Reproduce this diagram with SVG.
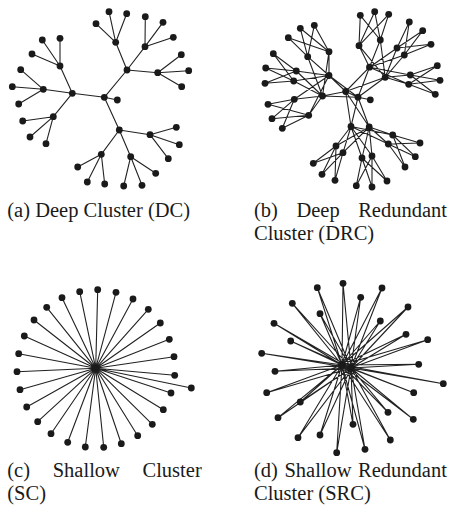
<svg xmlns="http://www.w3.org/2000/svg" width="453" height="510" viewBox="0 0 453 510">
<style>
  .edge { fill: none; stroke: #222; stroke-width: 1.1; stroke-linejoin: round; stroke-linecap: round; }
  .node circle { fill: #1a1a1a; }
  .cap text { font-family: "Liberation Serif", "DejaVu Serif", serif; font-size: 20.5px; fill: #1a1a1a; }
</style>
<rect width="453" height="510" fill="#fff"/>

<!-- connectors -->
<g id="connectors">
  <!-- (a) deep cluster: three-level tree -->
  <path class="edge" d="
    M104.3 97.3L117.3 100 M104.3 97.3L72.3 93.3 M104.3 97.3L127 70 M104.3 97.3L119.3 130
    M72.3 93.3L60 66 M72.3 93.3L43.3 89.3 M72.3 93.3L53.3 116.7
    M60 66L42.3 40 M60 66L60 38.3 M60 66L32 54
    M43.3 89.3L20.7 69.7 M43.3 89.3L12.3 86.7 M43.3 89.3L18.7 104
    M53.3 116.7L22.7 121 M53.3 116.7L30 137 M53.3 116.7L46 143.7
    M127 70L115.7 42.3 M127 70L145 46.7 M127 70L157.7 72.7
    M115.7 42.3L96 23.7 M115.7 42.3L109 11.7 M115.7 42.3L126.7 13.7
    M145 46.7L145.3 16.7 M145 46.7L163 22.3 M145 46.7L173.3 37.3
    M157.7 72.7L181.3 54.7 M157.7 72.7L188.7 70.7 M157.7 72.7L181.7 86.7
    M119.3 130L101.3 154.3 M119.3 130L130.7 156.7 M119.3 130L150 134.7
    M101.3 154.3L77.7 167 M101.3 154.3L87.3 182 M101.3 154.3L104.7 184
    M130.7 156.7L123.7 186 M130.7 156.7L142 185.3 M130.7 156.7L155.7 173.3
    M150 134.7L176.3 127.3 M150 134.7L179.3 144.7 M150 134.7L168.3 158.7"/>

  <!-- (b) deep redundant cluster: every node linked to both members of the parent pair -->
  <path class="edge" d="
    M345.7 91.5L358 97.2 M358 97.2L370.3 99.8
    M345.7 91.5L329 75.5L358 97.2 M345.7 91.5L322.5 96L358 97.2
    M345.7 91.5L369.5 67.2L358 97.2 M345.7 91.5L385.2 77.3L358 97.2
    M345.7 91.5L351 126.5L358 97.2 M345.7 91.5L369.2 127L358 97.2

    M329 75.5L307.7 56.7L322.5 96L329 51.7L329 75.5
    M307.7 56.7L288.3 37.7L329 51.7 M307.7 56.7L300.3 28.3L329 51.7 M307.7 56.7L314.3 25.3L329 51.7
    M329 75.5L296.3 71L322.5 96L293.7 81L329 75.5
    M296.3 71L273.3 53.7L293.7 81 M296.3 71L265.7 68L293.7 81 M296.3 71L265 83.3L293.7 81
    M329 75.5L294.3 99.3L322.5 96L308.7 115.3L329 75.5
    M294.3 99.3L268 104.3L308.7 115.3 M294.3 99.3L272 118.7L308.7 115.3 M294.3 99.3L282.3 128.3L308.7 115.3

    M369.5 67.2L359 45.7L385.2 77.3L380.3 40L369.5 67.2
    M359 45.7L360.3 15.3L380.3 40 M359 45.7L374.7 11.7L380.3 40 M359 45.7L388.7 14.3L380.3 40
    M369.5 67.2L397 48L385.2 77.3L404.3 55L369.5 67.2
    M397 48L409.3 22L404.3 55 M397 48L422.7 30.7L404.3 55 M397 48L431 44.3L404.3 55
    M369.5 67.2L410.3 75L385.2 77.3L408.7 84.3L369.5 67.2
    M410.3 75L437.3 65.7L408.7 84.3 M410.3 75L440 80.3L408.7 84.3 M410.3 75L435.3 94.3L408.7 84.3

    M351 126.5L336 146L369.2 127L343 152.7L351 126.5
    M336 146L313.3 163.3L343 152.7 M336 146L322 174.3L343 152.7 M336 146L335 180.3L343 152.7
    M351 126.5L362 158L369.2 127L372 156L351 126.5
    M362 158L356.3 185.7L372 156 M362 158L372 187L372 156 M362 158L387 181L372 156
    M351 126.5L392.7 135L369.2 127L388.3 144L351 126.5
    M392.7 135L420 143L388.3 144 M392.7 135L415.3 156.7L388.3 144 M392.7 135L405 167L388.3 144"/>

  <!-- (c) shallow cluster: star -->
  <path class="edge" d="
    M95.7 368.3L97.7 289.7 M95.7 368.3L116 292.3 M95.7 368.3L133 299 M95.7 368.3L148.3 309.3
    M95.7 368.3L160.3 323 M95.7 368.3L169.3 339.3 M95.7 368.3L174 356.7 M95.7 368.3L174.7 375.3
    M95.7 368.3L191.3 388 M95.7 368.3L171 393 M95.7 368.3L163.3 409.7 M95.7 368.3L152.3 424.3
    M95.7 368.3L137.7 435.7 M95.7 368.3L121.3 443.7 M95.7 368.3L103.7 447.3 M95.7 368.3L85.3 447
    M95.7 368.3L67.7 442.3 M95.7 368.3L51 433.7 M95.7 368.3L37.7 421.7 M95.7 368.3L26.7 407
    M95.7 368.3L20 389.7 M95.7 368.3L17 371.7 M95.7 368.3L18.7 353.7 M95.7 368.3L24.3 336
    M95.7 368.3L34 320 M95.7 368.3L46.7 307.3 M95.7 368.3L62 297.7 M95.7 368.3L79.7 291.7"/>

  <!-- (d) shallow redundant cluster: each leaf tied to both hubs -->
  <path class="edge" d="
    M342 365L343 283.3L351 368 M342 365L360.7 297.3L351 368 M342 365L382 288L351 368
    M342 365L408 307L351 368 M342 365L380.3 321L351 368 M342 365L406 334.3L351 368
    M342 365L427.7 339.7L351 368 M342 365L418.7 364.3L351 368 M342 365L443.3 383.7L351 368
    M342 365L413.7 392.7L351 368 M342 365L388 412.3L351 368 M342 365L413.3 419.3L351 368
    M342 365L390.3 440L351 368 M342 365L365 449.3L351 368 M342 365L353 424.3L351 368
    M342 365L336.7 452.7L351 368 M342 365L320 435L351 368 M342 365L298 437.7L351 368
    M342 365L278 417.7L351 368 M342 365L300.3 402L351 368 M342 365L266.7 392.7L351 368
    M342 365L275 371.3L351 368 M342 365L261.7 353.3L351 368 M342 365L290.7 341L351 368
    M342 365L274 323.3L351 368 M342 365L292.3 303.3L351 368 M342 365L320 313.7L351 368
    M342 365L317.3 287.7L351 368 M342 365L351 368"/>
</g>

<!-- (a) nodes -->
<g id="dc">
  <g id="dc-root" class="node"><circle cx="104.3" cy="97.3" r="3.4"/></g>
  <g id="dc-leaf" class="node"><circle cx="117.3" cy="100" r="3.4"/></g>
  <g id="dc-h1" class="node"><circle cx="72.3" cy="93.3" r="3.4"/></g>
  <g id="dc-h2" class="node"><circle cx="127" cy="70" r="3.4"/></g>
  <g id="dc-h3" class="node"><circle cx="119.3" cy="130" r="3.4"/></g>
  <g id="dc-h1a" class="node"><circle cx="60" cy="66" r="3.4"/></g>
  <g id="dc-h1a1" class="node"><circle cx="42.3" cy="40" r="3.4"/></g>
  <g id="dc-h1a2" class="node"><circle cx="60" cy="38.3" r="3.4"/></g>
  <g id="dc-h1a3" class="node"><circle cx="32" cy="54" r="3.4"/></g>
  <g id="dc-h1b" class="node"><circle cx="43.3" cy="89.3" r="3.4"/></g>
  <g id="dc-h1b1" class="node"><circle cx="20.7" cy="69.7" r="3.4"/></g>
  <g id="dc-h1b2" class="node"><circle cx="12.3" cy="86.7" r="3.4"/></g>
  <g id="dc-h1b3" class="node"><circle cx="18.7" cy="104" r="3.4"/></g>
  <g id="dc-h1c" class="node"><circle cx="53.3" cy="116.7" r="3.4"/></g>
  <g id="dc-h1c1" class="node"><circle cx="22.7" cy="121" r="3.4"/></g>
  <g id="dc-h1c2" class="node"><circle cx="30" cy="137" r="3.4"/></g>
  <g id="dc-h1c3" class="node"><circle cx="46" cy="143.7" r="3.4"/></g>
  <g id="dc-h2a" class="node"><circle cx="115.7" cy="42.3" r="3.4"/></g>
  <g id="dc-h2a1" class="node"><circle cx="96" cy="23.7" r="3.4"/></g>
  <g id="dc-h2a2" class="node"><circle cx="109" cy="11.7" r="3.4"/></g>
  <g id="dc-h2a3" class="node"><circle cx="126.7" cy="13.7" r="3.4"/></g>
  <g id="dc-h2b" class="node"><circle cx="145" cy="46.7" r="3.4"/></g>
  <g id="dc-h2b1" class="node"><circle cx="145.3" cy="16.7" r="3.4"/></g>
  <g id="dc-h2b2" class="node"><circle cx="163" cy="22.3" r="3.4"/></g>
  <g id="dc-h2b3" class="node"><circle cx="173.3" cy="37.3" r="3.4"/></g>
  <g id="dc-h2c" class="node"><circle cx="157.7" cy="72.7" r="3.4"/></g>
  <g id="dc-h2c1" class="node"><circle cx="181.3" cy="54.7" r="3.4"/></g>
  <g id="dc-h2c2" class="node"><circle cx="188.7" cy="70.7" r="3.4"/></g>
  <g id="dc-h2c3" class="node"><circle cx="181.7" cy="86.7" r="3.4"/></g>
  <g id="dc-h3a" class="node"><circle cx="101.3" cy="154.3" r="3.4"/></g>
  <g id="dc-h3a1" class="node"><circle cx="77.7" cy="167" r="3.4"/></g>
  <g id="dc-h3a2" class="node"><circle cx="87.3" cy="182" r="3.4"/></g>
  <g id="dc-h3a3" class="node"><circle cx="104.7" cy="184" r="3.4"/></g>
  <g id="dc-h3b" class="node"><circle cx="130.7" cy="156.7" r="3.4"/></g>
  <g id="dc-h3b1" class="node"><circle cx="123.7" cy="186" r="3.4"/></g>
  <g id="dc-h3b2" class="node"><circle cx="142" cy="185.3" r="3.4"/></g>
  <g id="dc-h3b3" class="node"><circle cx="155.7" cy="173.3" r="3.4"/></g>
  <g id="dc-h3c" class="node"><circle cx="150" cy="134.7" r="3.4"/></g>
  <g id="dc-h3c1" class="node"><circle cx="176.3" cy="127.3" r="3.4"/></g>
  <g id="dc-h3c2" class="node"><circle cx="179.3" cy="144.7" r="3.4"/></g>
  <g id="dc-h3c3" class="node"><circle cx="168.3" cy="158.7" r="3.4"/></g>
</g>

<!-- (b) nodes -->
<g id="drc">
  <g id="drc-r1" class="node"><circle cx="345.7" cy="91.5" r="3.4"/></g>
  <g id="drc-r2" class="node"><circle cx="358" cy="97.2" r="3.4"/></g>
  <g id="drc-leaf" class="node"><circle cx="370.3" cy="99.8" r="3.4"/></g>
  <g id="drc-hl1" class="node"><circle cx="329" cy="75.5" r="3.4"/></g>
  <g id="drc-hl2" class="node"><circle cx="322.5" cy="96" r="3.4"/></g>
  <g id="drc-hu1" class="node"><circle cx="369.5" cy="67.2" r="3.4"/></g>
  <g id="drc-hu2" class="node"><circle cx="385.2" cy="77.3" r="3.4"/></g>
  <g id="drc-hd1" class="node"><circle cx="351" cy="126.5" r="3.4"/></g>
  <g id="drc-hd2" class="node"><circle cx="369.2" cy="127" r="3.4"/></g>
  <g id="drc-sa1" class="node"><circle cx="307.7" cy="56.7" r="3.4"/></g>
  <g id="drc-sa2" class="node"><circle cx="329" cy="51.7" r="3.4"/></g>
  <g id="drc-la1" class="node"><circle cx="288.3" cy="37.7" r="3.4"/></g>
  <g id="drc-la2" class="node"><circle cx="300.3" cy="28.3" r="3.4"/></g>
  <g id="drc-la3" class="node"><circle cx="314.3" cy="25.3" r="3.4"/></g>
  <g id="drc-sb1" class="node"><circle cx="296.3" cy="71" r="3.4"/></g>
  <g id="drc-sb2" class="node"><circle cx="293.7" cy="81" r="3.4"/></g>
  <g id="drc-lb1" class="node"><circle cx="273.3" cy="53.7" r="3.4"/></g>
  <g id="drc-lb2" class="node"><circle cx="265.7" cy="68" r="3.4"/></g>
  <g id="drc-lb3" class="node"><circle cx="265" cy="83.3" r="3.4"/></g>
  <g id="drc-sc1" class="node"><circle cx="294.3" cy="99.3" r="3.4"/></g>
  <g id="drc-sc2" class="node"><circle cx="308.7" cy="115.3" r="3.4"/></g>
  <g id="drc-lc1" class="node"><circle cx="268" cy="104.3" r="3.4"/></g>
  <g id="drc-lc2" class="node"><circle cx="272" cy="118.7" r="3.4"/></g>
  <g id="drc-lc3" class="node"><circle cx="282.3" cy="128.3" r="3.4"/></g>
  <g id="drc-sd1" class="node"><circle cx="359" cy="45.7" r="3.4"/></g>
  <g id="drc-sd2" class="node"><circle cx="380.3" cy="40" r="3.4"/></g>
  <g id="drc-ld1" class="node"><circle cx="360.3" cy="15.3" r="3.4"/></g>
  <g id="drc-ld2" class="node"><circle cx="374.7" cy="11.7" r="3.4"/></g>
  <g id="drc-ld3" class="node"><circle cx="388.7" cy="14.3" r="3.4"/></g>
  <g id="drc-se1" class="node"><circle cx="397" cy="48" r="3.4"/></g>
  <g id="drc-se2" class="node"><circle cx="404.3" cy="55" r="3.4"/></g>
  <g id="drc-le1" class="node"><circle cx="409.3" cy="22" r="3.4"/></g>
  <g id="drc-le2" class="node"><circle cx="422.7" cy="30.7" r="3.4"/></g>
  <g id="drc-le3" class="node"><circle cx="431" cy="44.3" r="3.4"/></g>
  <g id="drc-sf1" class="node"><circle cx="410.3" cy="75" r="3.4"/></g>
  <g id="drc-sf2" class="node"><circle cx="408.7" cy="84.3" r="3.4"/></g>
  <g id="drc-lf1" class="node"><circle cx="437.3" cy="65.7" r="3.4"/></g>
  <g id="drc-lf2" class="node"><circle cx="440" cy="80.3" r="3.4"/></g>
  <g id="drc-lf3" class="node"><circle cx="435.3" cy="94.3" r="3.4"/></g>
  <g id="drc-sg1" class="node"><circle cx="336" cy="146" r="3.4"/></g>
  <g id="drc-sg2" class="node"><circle cx="343" cy="152.7" r="3.4"/></g>
  <g id="drc-lg1" class="node"><circle cx="313.3" cy="163.3" r="3.4"/></g>
  <g id="drc-lg2" class="node"><circle cx="322" cy="174.3" r="3.4"/></g>
  <g id="drc-lg3" class="node"><circle cx="335" cy="180.3" r="3.4"/></g>
  <g id="drc-sh1" class="node"><circle cx="362" cy="158" r="3.4"/></g>
  <g id="drc-sh2" class="node"><circle cx="372" cy="156" r="3.4"/></g>
  <g id="drc-lh1" class="node"><circle cx="356.3" cy="185.7" r="3.4"/></g>
  <g id="drc-lh2" class="node"><circle cx="372" cy="187" r="3.4"/></g>
  <g id="drc-lh3" class="node"><circle cx="387" cy="181" r="3.4"/></g>
  <g id="drc-si1" class="node"><circle cx="392.7" cy="135" r="3.4"/></g>
  <g id="drc-si2" class="node"><circle cx="388.3" cy="144" r="3.4"/></g>
  <g id="drc-li1" class="node"><circle cx="420" cy="143" r="3.4"/></g>
  <g id="drc-li2" class="node"><circle cx="415.3" cy="156.7" r="3.4"/></g>
  <g id="drc-li3" class="node"><circle cx="405" cy="167" r="3.4"/></g>
</g>

<!-- (c) nodes -->
<g id="sc">
  <g id="sc-hub" class="node"><circle cx="95.7" cy="368.3" r="3.8"/></g>
  <g id="sc-l01" class="node"><circle cx="97.7" cy="289.7" r="3.4"/></g>
  <g id="sc-l02" class="node"><circle cx="116" cy="292.3" r="3.4"/></g>
  <g id="sc-l03" class="node"><circle cx="133" cy="299" r="3.4"/></g>
  <g id="sc-l04" class="node"><circle cx="148.3" cy="309.3" r="3.4"/></g>
  <g id="sc-l05" class="node"><circle cx="160.3" cy="323" r="3.4"/></g>
  <g id="sc-l06" class="node"><circle cx="169.3" cy="339.3" r="3.4"/></g>
  <g id="sc-l07" class="node"><circle cx="174" cy="356.7" r="3.4"/></g>
  <g id="sc-l08" class="node"><circle cx="174.7" cy="375.3" r="3.4"/></g>
  <g id="sc-l09" class="node"><circle cx="191.3" cy="388" r="3.4"/></g>
  <g id="sc-l10" class="node"><circle cx="171" cy="393" r="3.4"/></g>
  <g id="sc-l11" class="node"><circle cx="163.3" cy="409.7" r="3.4"/></g>
  <g id="sc-l12" class="node"><circle cx="152.3" cy="424.3" r="3.4"/></g>
  <g id="sc-l13" class="node"><circle cx="137.7" cy="435.7" r="3.4"/></g>
  <g id="sc-l14" class="node"><circle cx="121.3" cy="443.7" r="3.4"/></g>
  <g id="sc-l15" class="node"><circle cx="103.7" cy="447.3" r="3.4"/></g>
  <g id="sc-l16" class="node"><circle cx="85.3" cy="447" r="3.4"/></g>
  <g id="sc-l17" class="node"><circle cx="67.7" cy="442.3" r="3.4"/></g>
  <g id="sc-l18" class="node"><circle cx="51" cy="433.7" r="3.4"/></g>
  <g id="sc-l19" class="node"><circle cx="37.7" cy="421.7" r="3.4"/></g>
  <g id="sc-l20" class="node"><circle cx="26.7" cy="407" r="3.4"/></g>
  <g id="sc-l21" class="node"><circle cx="20" cy="389.7" r="3.4"/></g>
  <g id="sc-l22" class="node"><circle cx="17" cy="371.7" r="3.4"/></g>
  <g id="sc-l23" class="node"><circle cx="18.7" cy="353.7" r="3.4"/></g>
  <g id="sc-l24" class="node"><circle cx="24.3" cy="336" r="3.4"/></g>
  <g id="sc-l25" class="node"><circle cx="34" cy="320" r="3.4"/></g>
  <g id="sc-l26" class="node"><circle cx="46.7" cy="307.3" r="3.4"/></g>
  <g id="sc-l27" class="node"><circle cx="62" cy="297.7" r="3.4"/></g>
  <g id="sc-l28" class="node"><circle cx="79.7" cy="291.7" r="3.4"/></g>
</g>

<!-- (d) nodes -->
<g id="src">
  <g id="src-hub1" class="node"><circle cx="342" cy="365" r="3.8"/></g>
  <g id="src-hub2" class="node"><circle cx="351" cy="368" r="3.8"/></g>
  <g id="src-l01" class="node"><circle cx="343" cy="283.3" r="3.4"/></g>
  <g id="src-l02" class="node"><circle cx="360.7" cy="297.3" r="3.4"/></g>
  <g id="src-l03" class="node"><circle cx="382" cy="288" r="3.4"/></g>
  <g id="src-l04" class="node"><circle cx="408" cy="307" r="3.4"/></g>
  <g id="src-l05" class="node"><circle cx="380.3" cy="321" r="3.4"/></g>
  <g id="src-l06" class="node"><circle cx="406" cy="334.3" r="3.4"/></g>
  <g id="src-l07" class="node"><circle cx="427.7" cy="339.7" r="3.4"/></g>
  <g id="src-l08" class="node"><circle cx="418.7" cy="364.3" r="3.4"/></g>
  <g id="src-l09" class="node"><circle cx="443.3" cy="383.7" r="3.4"/></g>
  <g id="src-l10" class="node"><circle cx="413.7" cy="392.7" r="3.4"/></g>
  <g id="src-l11" class="node"><circle cx="388" cy="412.3" r="3.4"/></g>
  <g id="src-l12" class="node"><circle cx="413.3" cy="419.3" r="3.4"/></g>
  <g id="src-l13" class="node"><circle cx="390.3" cy="440" r="3.4"/></g>
  <g id="src-l14" class="node"><circle cx="365" cy="449.3" r="3.4"/></g>
  <g id="src-l15" class="node"><circle cx="353" cy="424.3" r="3.4"/></g>
  <g id="src-l16" class="node"><circle cx="336.7" cy="452.7" r="3.4"/></g>
  <g id="src-l17" class="node"><circle cx="320" cy="435" r="3.4"/></g>
  <g id="src-l18" class="node"><circle cx="298" cy="437.7" r="3.4"/></g>
  <g id="src-l19" class="node"><circle cx="278" cy="417.7" r="3.4"/></g>
  <g id="src-l20" class="node"><circle cx="300.3" cy="402" r="3.4"/></g>
  <g id="src-l21" class="node"><circle cx="266.7" cy="392.7" r="3.4"/></g>
  <g id="src-l22" class="node"><circle cx="275" cy="371.3" r="3.4"/></g>
  <g id="src-l23" class="node"><circle cx="261.7" cy="353.3" r="3.4"/></g>
  <g id="src-l24" class="node"><circle cx="290.7" cy="341" r="3.4"/></g>
  <g id="src-l25" class="node"><circle cx="274" cy="323.3" r="3.4"/></g>
  <g id="src-l26" class="node"><circle cx="292.3" cy="303.3" r="3.4"/></g>
  <g id="src-l27" class="node"><circle cx="320" cy="313.7" r="3.4"/></g>
  <g id="src-l28" class="node"><circle cx="317.3" cy="287.7" r="3.4"/></g>
</g>

<!-- captions -->
<g id="captions" class="cap">
  <text x="7.3" y="217" font-family="Liberation Serif, serif">(a) Deep Cluster (DC)</text>
  <text y="217" font-family="Liberation Serif, serif"><tspan x="254">(b)</tspan><tspan x="296.4">Deep</tspan><tspan x="358.2">Redundant</tspan></text>
  <text x="254" y="240" font-family="Liberation Serif, serif">Cluster (DRC)</text>
  <text y="477" font-family="Liberation Serif, serif"><tspan x="7.3">(c)</tspan><tspan x="52.7">Shallow</tspan><tspan x="142.5">Cluster</tspan></text>
  <text x="7.3" y="500" font-family="Liberation Serif, serif">(SC)</text>
  <text y="477" font-family="Liberation Serif, serif"><tspan x="254">(d)</tspan><tspan x="284.4">Shallow</tspan><tspan x="358.1">Redundant</tspan></text>
  <text x="254" y="500" font-family="Liberation Serif, serif">Cluster (SRC)</text>
</g>
</svg>
